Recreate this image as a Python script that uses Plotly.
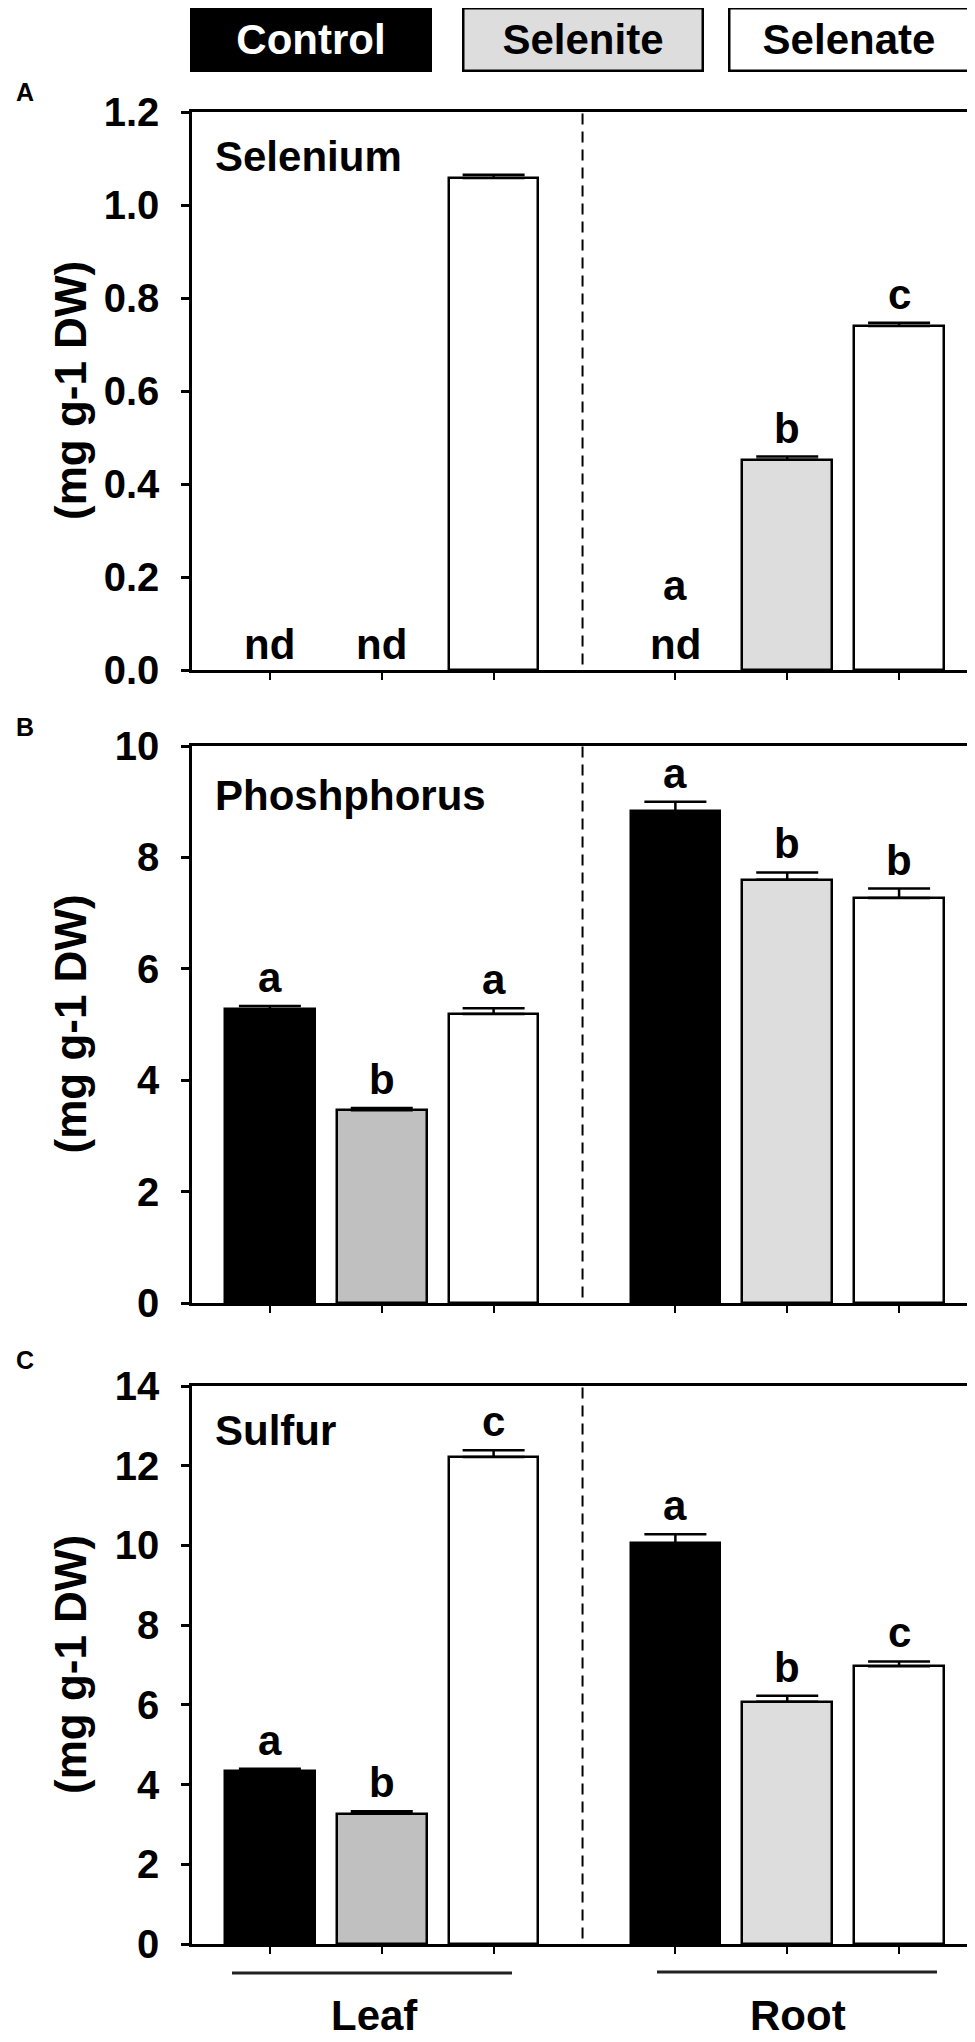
import plotly.graph_objects as go

# ---------------- data ----------------
groups = ["Leaf", "Root"]
treatments = ["Control", "Selenite", "Selenate"]
panels = ["Selenium", "Phoshphorus", "Sulfur"]
panel_letters = ["A", "B", "C"]

# Selenium (mg g-1 DW); None = not detected
se_leaf = [None, None, 1.058]
se_leaf_err = [0, 0, 0.007]
se_root = [None, 0.452, 0.740]
se_root_err = [0, 0.007, 0.007]
se_leaf_letters = ["", "", ""]
se_root_letters = ["a", "b", "c"]
se_leaf_nd = [True, True, False]
se_root_nd = [True, False, False]

# Phosphorus
p_leaf = [5.27, 3.46, 5.19]
p_leaf_err = [0.06, 0.04, 0.10]
p_root = [8.83, 7.60, 7.27]
p_root_err = [0.17, 0.13, 0.17]
p_leaf_letters = ["a", "b", "a"]
p_root_letters = ["a", "b", "b"]

# Sulfur
s_leaf = [4.35, 3.27, 12.22]
s_leaf_err = [0.05, 0.06, 0.17]
s_root = [10.05, 6.08, 6.97]
s_root_err = [0.23, 0.15, 0.12]
s_leaf_letters = ["a", "b", "c"]
s_root_letters = ["a", "b", "c"]

y_max = [1.2, 10, 14]
y_dtick = [0.2, 2, 2]
y_fmt = [".1f", "d", "d"]

# ---------------- styling / layout ----------------
OFF = 8                      # default page margin of the html body
W, H = 975 - OFF, 2042 - OFF
FONT = "Liberation Sans, Arial, Helvetica, sans-serif"
pos = [1, 2, 3, 4.625, 5.625, 6.625]
x_range = [0.3036, 7.25]
divider_x = 3.795
bar_w = 0.80
colors = ["#000000", "#c0c0c0", "#ffffff", "#000000", "#dddddd", "#ffffff"]

# positions in page pixels of the target picture
panel_px = [(112, 670), (746, 1303), (1386, 1944)]
letter_cy = [92, 727, 1360]
plot_left, plot_right = 192, 969


def py(px):
    return 1 - (px - OFF) / H


def pxx(px):
    return (px - OFF) / W


fig = go.Figure()

data = [
    (se_leaf + se_root, se_leaf_err + se_root_err, se_leaf_letters + se_root_letters,
     se_leaf_nd + se_root_nd),
    (p_leaf + p_root, p_leaf_err + p_root_err, p_leaf_letters + p_root_letters,
     [False] * 6),
    (s_leaf + s_root, s_leaf_err + s_root_err, s_leaf_letters + s_root_letters,
     [False] * 6),
]

annotations = []
shapes = []
label_shift = 3
title_shift = [-19, -24, -19]
BOLD = dict(family=FONT, color="black", weight="bold")

for i, (vals, errs, letters, nds) in enumerate(data):
    xa = "x" if i == 0 else f"x{i+1}"
    ya = "y" if i == 0 else f"y{i+1}"
    fig.add_trace(go.Bar(
        x=pos, y=vals, width=bar_w, xaxis=xa, yaxis=ya,
        marker=dict(color=colors, line=dict(color="black", width=2.5)),
        error_y=dict(type="data", array=errs, arrayminus=[0] * 6, symmetric=False,
                     color="black", thickness=2.5, width=31),
        showlegend=False, hoverinfo="skip",
    ))
    top, bot = panel_px[i]
    dom = [py(bot), py(top)]
    ax_common = dict(showline=True, linewidth=2.5, linecolor="black", mirror=True,
                     showgrid=False, zeroline=False, automargin=False)
    fig.update_layout(**{
        ("xaxis" if i == 0 else f"xaxis{i+1}"): dict(
            domain=[pxx(plot_left), pxx(plot_right)], range=x_range,
            anchor=ya, tickmode="array", tickvals=pos, showticklabels=False,
            ticks="outside", ticklen=7, tickwidth=2, tickcolor="black", **ax_common),
        ("yaxis" if i == 0 else f"yaxis{i+1}"): dict(
            domain=dom, range=[0, y_max[i]], dtick=y_dtick[i], tick0=0,
            tickformat=y_fmt[i], anchor=xa, ticks="outside", ticklen=8, tickwidth=2.5,
            tickcolor="black", ticklabelstandoff=14,
            tickfont=dict(size=40, **BOLD), **ax_common),
    })
    shapes.append(dict(type="line", xref=xa, yref=f"{ya} domain", x0=divider_x, x1=divider_x,
                       y0=0.01, y1=1, line=dict(color="black", width=2, dash="11px,7px")))
    annotations.append(dict(text=panels[i], xref=f"{xa} domain", yref=f"{ya} domain",
                            x=0.027, y=1, xanchor="left", yanchor="top", yshift=title_shift[i],
                            showarrow=False, font=dict(size=42, **BOLD)))
    annotations.append(dict(text=panel_letters[i], xref="paper", yref="paper",
                            x=pxx(25), y=py(letter_cy[i]), xanchor="center", yanchor="middle",
                            showarrow=False, font=dict(size=25, **BOLD)))
    annotations.append(dict(text="(mg g-1 DW)", xref="paper", yref="paper",
                            x=pxx(70), y=py((top + bot) / 2), xanchor="center", yanchor="middle",
                            textangle=-90, showarrow=False, font=dict(size=44, **BOLD)))
    for j in range(6):
        v = vals[j] if vals[j] is not None else 0
        top_v = v + errs[j]
        if nds[j]:
            annotations.append(dict(text="nd", xref=xa, yref=ya, x=pos[j], y=0,
                                    xanchor="center", yanchor="bottom", yshift=0,
                                    showarrow=False, font=dict(size=42, **BOLD)))
        if letters[j]:
            shift = 59 if nds[j] else label_shift
            annotations.append(dict(text=letters[j], xref=xa, yref=ya, x=pos[j], y=top_v,
                                    xanchor="center", yanchor="bottom", yshift=shift,
                                    showarrow=False, font=dict(size=42, **BOLD)))

legend_boxes = [(311, "#000000", "white"), (582.5, "#dddddd", "black"), (848.5, "#ffffff", "black")]
for (cx, bg, fc), name in zip(legend_boxes, treatments):
    annotations.append(dict(text=name, xref="paper", yref="paper", x=pxx(cx), y=py(40),
                            xanchor="center", yanchor="middle", showarrow=False,
                            width=237, height=60, bgcolor=bg, bordercolor="black",
                            borderwidth=2.5, borderpad=0,
                            font=dict(size=42, family=FONT, color=fc, weight="bold")))

for (x0, x1, yl), cx, name in zip([(232, 512, 1973), (657, 937, 1972)], [374, 798], groups):
    shapes.append(dict(type="line", xref="paper", yref="paper", x0=pxx(x0), x1=pxx(x1),
                       y0=py(yl), y1=py(yl), line=dict(color="#222222", width=3)))
    annotations.append(dict(text=name, xref="paper", yref="paper", x=pxx(cx), y=py(2041),
                            xanchor="center", yanchor="bottom", showarrow=False,
                            font=dict(size=42, **BOLD)))

fig.update_layout(width=W, height=H, margin=dict(l=0, r=0, t=0, b=0, autoexpand=False),
                  paper_bgcolor="white", plot_bgcolor="white",
                  annotations=annotations, shapes=shapes, bargap=0)

fig.write_html("out.html")
